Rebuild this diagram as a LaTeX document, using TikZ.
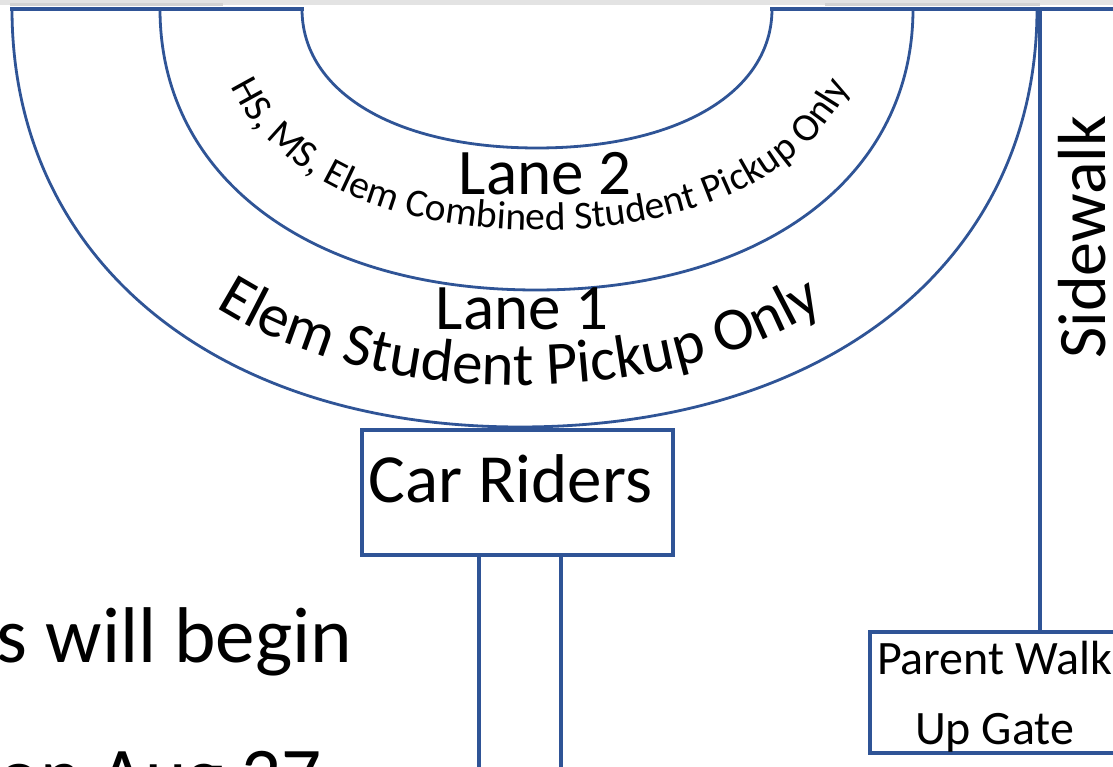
\documentclass[tikz,border=0pt]{standalone}
\usepackage{fontspec}
\setmainfont{Carlito}
\usetikzlibrary{decorations.text}
\definecolor{laneblue}{RGB}{47,84,150}
\newcommand\curveAfont{\fontsize{61pt}{62pt}\selectfont}
\newcommand\curveBfont{\fontsize{39.5pt}{40pt}\selectfont}
\newcommand\lanefont{\fontsize{65pt}{66pt}\selectfont}
\newcommand\boxfont{\fontsize{69pt}{70pt}\selectfont}
\newcommand\gatefont{\fontsize{48pt}{50pt}\selectfont}
\newcommand\sidefont{\fontsize{68pt}{70pt}\selectfont}
\newcommand\bigfont{\fontsize{79pt}{80pt}\selectfont}
\begin{document}
\begin{tikzpicture}[x=1pt,y=1pt,
  lane/.style={draw=laneblue, line width=2.8pt},
  topline/.style={draw=laneblue, line width=3.8pt, line cap=rect},
  boxshape/.style={draw=laneblue, line width=3.6pt, rectangle, inner sep=0pt},
  wire/.style={draw=laneblue, line width=3.4pt},
  txt/.style={inner sep=0pt, outer sep=0pt, text=black}]
\useasboundingbox (0,0) rectangle (1113,767);
\clip (0,0) rectangle (1113,767);
\fill[white] (0,0) rectangle (1113,767);
\fill[gray!22] (0,762) rectangle (1113,767);
\fill[gray!35] (10,761) rectangle (223,764);
\fill[gray!35] (825,761) rectangle (1040,764);
% lanes
\draw[lane] (12,758) .. controls (12,507.2) and (215.2,340) .. (520,340) .. controls (830.2,340) and (1037,507.2) .. (1037,758);
\draw[lane] (160,758) .. controls (160,589.4) and (310.4,477) .. (536,477) .. controls (762.2,477) and (913,589.4) .. (913,758);
\draw[lane] (302,758) .. controls (302,674.6) and (396,619) .. (537,619) .. controls (678,619) and (772,674.6) .. (772,758);
\draw[topline] (12,758) -- (302,758);
\draw[topline] (772,758) -- (1120,758);
% curved labels
\path[decorate, decoration={text along path, text align=center,
  text={|\curveAfont|Elem Student Pickup Only}}]
  (50,758) .. controls (50,532.4) and (238,382) .. (520,382) .. controls (802,382) and (990,532.4) .. (990,758);
\path[decorate, decoration={text along path, text align=center,
  text={|\curveBfont|HS, MS, Elem Combined Student Pickup Only}}]
  (214,758) .. controls (214,625.4) and (344,537) .. (540,537) .. controls (736,537) and (866,625.4) .. (866,758);
\node[txt, anchor=base, font=\lanefont] (lane2) at (545,572) {Lane 2};
\node[txt, anchor=base, font=\lanefont] (lane1) at (522,437) {Lane 1};
% car riders
\node[boxshape, minimum width=311pt, minimum height=125pt] (carriders) at (517.5,274.5) {};
\node[txt, anchor=base, font=\boxfont] (carlabel) at (510.5,264) {Car Riders};
\coordinate (roadL) at (479,-5);
\coordinate (roadR) at (561,-5);
\draw[wire] (carriders.south -| roadL) -- (roadL);
\draw[wire] (carriders.south -| roadR) -- (roadR);
% sidewalk and gate
\node[boxshape, minimum width=270pt, minimum height=121pt] (parentbox) at (1005,74.5) {};
\node[txt, anchor=base west, font=\gatefont] (gate1) at (877,92) {Parent Walk};
\node[txt, anchor=base west, font=\gatefont] (gate2) at (915,22) {Up Gate};
\coordinate (swtop) at (1040,758);
\draw[wire] (swtop) -- (parentbox.north -| swtop);
\node[txt, anchor=base, rotate=90, font=\sidefont] (sidewalk) at (1105,530) {Sidewalk};
% left text
\node[txt, anchor=base east, font=\bigfont] (begin) at (352,104) {s will begin};
\node[txt, anchor=base east, font=\bigfont] (aug) at (322,-36) {on Aug 27};
\end{tikzpicture}
\end{document}
